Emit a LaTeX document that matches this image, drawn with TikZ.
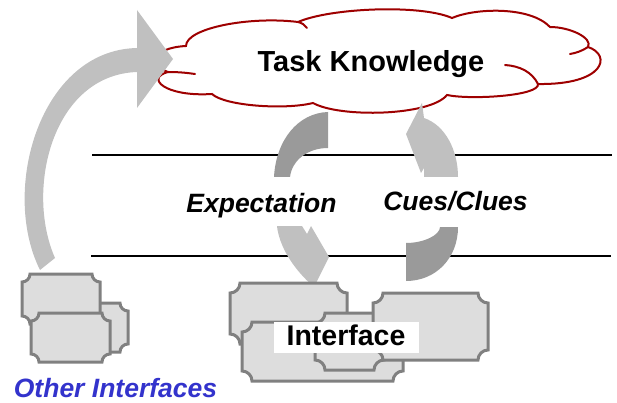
\documentclass[tikz,border=0pt]{standalone}
\usepackage{fontspec}
\setmainfont{Liberation Sans}

\definecolor{arrowlight}{HTML}{C0C0C0}
\definecolor{arrowdark}{HTML}{9A9A9A}
\definecolor{plaquefill}{HTML}{DDDDDD}
\definecolor{plaqueedge}{HTML}{808080}
\definecolor{cloudred}{HTML}{9E0000}
\definecolor{otherblue}{HTML}{3333CC}

\tikzset{
  lightarrow/.style={fill=arrowlight},
  darkarrow/.style={fill=arrowdark},
  plaquebox/.style={fill=plaquefill, draw=plaqueedge, line width=3pt},
  layerline/.style={draw=black, line width=2.5pt},
  cloudline/.style={draw=cloudred, line width=2pt, line cap=round},
  bigtext/.style={font=\fontsize{29}{33}\selectfont\bfseries},
  midtext/.style={font=\fontsize{26.5}{30}\selectfont\bfseries\itshape}
}

% plaque outline: a rectangle with concave quarter-circle corners
% arguments: x1, y1 (top left), x2, y2 (bottom right), corner radius
\newcommand{\plaque}[5]{%
  \filldraw[plaquebox] ({#1+#5},#2) -- ({#3-#5},#2)
    .. controls ({#3-#5},{#2+0.55*#5}) and ({#3-0.55*#5},{#2+#5}) .. (#3,{#2+#5})
    -- (#3,{#4-#5})
    .. controls ({#3-0.55*#5},{#4-#5}) and ({#3-#5},{#4-0.55*#5}) .. ({#3-#5},#4)
    -- ({#1+#5},#4)
    .. controls ({#1+#5},{#4-0.55*#5}) and ({#1+0.55*#5},{#4-#5}) .. (#1,{#4-#5})
    -- (#1,{#2+#5})
    .. controls ({#1+0.55*#5},{#2+#5}) and ({#1+#5},{#2+0.55*#5}) .. cycle;}

\begin{document}
\begin{tikzpicture}[x=1pt, y=-1pt]
\useasboundingbox (0,0) rectangle (617,403);

% the two layer boundaries
\coordinate (upL) at (92,155);  \coordinate (upR) at (612,155);
\coordinate (loL) at (91,256);  \coordinate (loR) at (611,256);
\draw[layerline] (upL) -- (upR);
\draw[layerline] (loL) -- (loR);

% task knowledge cloud: outline of puffs
\coordinate (pA) at (186,46);  \coordinate (pB) at (298,22);
\coordinate (pC) at (452,18);  \coordinate (pD) at (550,27);
\coordinate (pE) at (588,47);  \coordinate (pF) at (538,84);
\coordinate (pG) at (447,95);  \coordinate (pH) at (313,103);
\coordinate (pI) at (212,94);  \coordinate (pJ) at (168,72);
\draw[cloudline, fill=white] (pA)
  .. controls (186,28) and (250,16) .. (pB)
  .. controls (330,8) and (420,4) .. (pC)
  .. controls (475,8) and (530,6) .. (pD)
  .. controls (570,27) and (593,38) .. (pE)
  .. controls (612,55) and (605,85) .. (pF)
  .. controls (540,96) and (470,100) .. (pG)
  .. controls (430,116) and (340,118) .. (pH)
  .. controls (285,110) and (225,106) .. (pI)
  .. controls (165,97) and (145,78) .. (pJ)
  .. controls (150,66) and (150,48) .. (pA) -- cycle;
% puff ends that run on into the cloud
\draw[cloudline] (pJ) .. controls (180,72) and (188,73) .. (195,74);
\draw[cloudline] (pB) .. controls (302,23) and (305,25) .. (307,28);
\draw[cloudline] (pE) .. controls (582,51) and (576,53) .. (570,54);
\draw[cloudline] (pF) .. controls (532,72) and (520,66) .. (505,65);
\node[bigtext, anchor=base] (task) at (371,71.5) {Task Knowledge};

% large arrow from the other interfaces up to the cloud
\fill[lightarrow] (40,270) .. controls (0,190) and (40,50) .. (137,48)
  -- (137,10) -- (173,59) -- (137,108) -- (137,72)
  .. controls (52,75) and (25,190) .. (55,258) -- cycle;

% expectation: cloud down to the interface
\fill[darkarrow] (328,112) -- (328,148)
  .. controls (308,148) and (292,160) .. (290,177) -- (274,177)
  .. controls (276,140) and (298,113) .. (328,112) -- cycle;
\fill[lightarrow] (277,226) -- (302,226) -- (307,234) -- (311,226)
  -- (329,257) -- (314,287)
  .. controls (292,268) and (279,245) .. (277,226) -- cycle;

% cues / clues: interface up to the cloud
\fill[lightarrow] (422,103) -- (406,134) -- (421,173) -- (424,168) -- (424,177)
  -- (458,177) .. controls (458,150) and (445,125) .. (424,118) -- cycle;
\fill[darkarrow] (440,227) -- (458,227)
  .. controls (458,258) and (436,281) .. (406,281) -- (406,243)
  .. controls (424,243) and (440,235) .. (440,227) -- cycle;

\node[midtext, anchor=base] (expect) at (261.5,212) {Expectation};
\node[midtext, anchor=base] (cues) at (455.5,211) {Cues/Clues};

% other interfaces
\plaque{60}{303}{128}{352}{8}
\plaque{22}{274}{100}{324}{8}
\plaque{31}{313}{110}{362}{8}
\node[midtext, text=otherblue, anchor=base] (others) at (115.5,397.5) {Other Interfaces};

% the interface
\plaque{230}{283}{347}{344}{10}
\plaque{242}{322}{403}{381}{10}
\plaque{315}{313}{384}{370}{10}
\plaque{373}{293}{488}{360}{10}
\node[bigtext, fill=white, anchor=base, inner sep=0pt, text height=23pt,
  text depth=8pt, minimum width=145pt,
  font=\fontsize{28.5}{32}\selectfont\bfseries] (iface) at (346,345) {Interface};
\end{tikzpicture}
\end{document}
